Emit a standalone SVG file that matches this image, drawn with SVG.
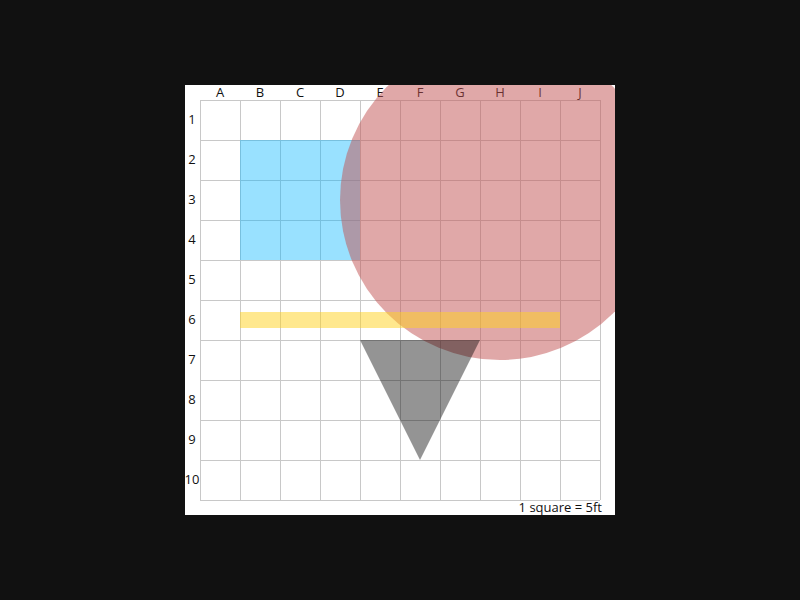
<svg xmlns="http://www.w3.org/2000/svg" width="800" height="600" viewBox="0 0 800 600">
<style>
.lbl{font-family:"Open Sans","Liberation Sans",sans-serif;font-size:13px;font-weight:500;fill:#111;text-anchor:middle}
.grid line{stroke:#c8c8c8;stroke-width:1}
</style>
<defs>
<clipPath id="panel"><rect x="185" y="85" width="430" height="430"/></clipPath>
</defs>
<rect width="800" height="600" fill="#111"/>
<rect x="185" y="85" width="430" height="430" fill="#fff"/>
<g class="grid">
<line x1="200.5" y1="100" x2="200.5" y2="500"/><line x1="240.5" y1="100" x2="240.5" y2="500"/><line x1="280.5" y1="100" x2="280.5" y2="500"/><line x1="320.5" y1="100" x2="320.5" y2="500"/><line x1="360.5" y1="100" x2="360.5" y2="500"/><line x1="400.5" y1="100" x2="400.5" y2="500"/><line x1="440.5" y1="100" x2="440.5" y2="500"/><line x1="480.5" y1="100" x2="480.5" y2="500"/><line x1="520.5" y1="100" x2="520.5" y2="500"/><line x1="560.5" y1="100" x2="560.5" y2="500"/><line x1="600.5" y1="100" x2="600.5" y2="500"/>
<line x1="200" y1="100.5" x2="600" y2="100.5"/><line x1="200" y1="140.5" x2="600" y2="140.5"/><line x1="200" y1="180.5" x2="600" y2="180.5"/><line x1="200" y1="220.5" x2="600" y2="220.5"/><line x1="200" y1="260.5" x2="600" y2="260.5"/><line x1="200" y1="300.5" x2="600" y2="300.5"/><line x1="200" y1="340.5" x2="600" y2="340.5"/><line x1="200" y1="380.5" x2="600" y2="380.5"/><line x1="200" y1="420.5" x2="600" y2="420.5"/><line x1="200" y1="460.5" x2="600" y2="460.5"/><line x1="200" y1="500.5" x2="600" y2="500.5"/>
</g>
<g id="col-labels">
<text class="lbl" x="220" y="97">A</text><text class="lbl" x="260" y="97">B</text><text class="lbl" x="300" y="97">C</text><text class="lbl" x="340" y="97">D</text><text class="lbl" x="380" y="97">E</text><text class="lbl" x="420" y="97">F</text><text class="lbl" x="460" y="97">G</text><text class="lbl" x="500" y="97">H</text><text class="lbl" x="540" y="97">I</text><text class="lbl" x="580" y="97">J</text>
</g>
<g id="row-labels">
<text class="lbl" x="192" y="124">1</text><text class="lbl" x="192" y="164">2</text><text class="lbl" x="192" y="204">3</text><text class="lbl" x="192" y="244">4</text><text class="lbl" x="192" y="284">5</text><text class="lbl" x="192" y="324">6</text><text class="lbl" x="192" y="364">7</text><text class="lbl" x="192" y="404">8</text><text class="lbl" x="192" y="444">9</text><text class="lbl" x="192" y="484">10</text>
</g>
<g id="shapes" clip-path="url(#panel)">
<rect id="blue-rect" x="240" y="140" width="120" height="120" fill="rgb(0,180,255)" fill-opacity="0.4"/>
<circle id="red-circle" cx="500" cy="200" r="160" fill="rgb(193,81,81)" fill-opacity="0.5"/>
<rect id="yellow-bar" x="240" y="312" width="320" height="16" fill="rgb(255,210,30)" fill-opacity="0.5"/>
<polygon id="triangle" points="360,340 480,340 420,460" fill="#000" fill-opacity="0.42"/>
</g>
<text x="602" y="512" style="font-family:'Open Sans','Liberation Sans',sans-serif;font-size:13px;font-weight:500;fill:#111;text-anchor:end">1 square = 5ft</text>
</svg>
